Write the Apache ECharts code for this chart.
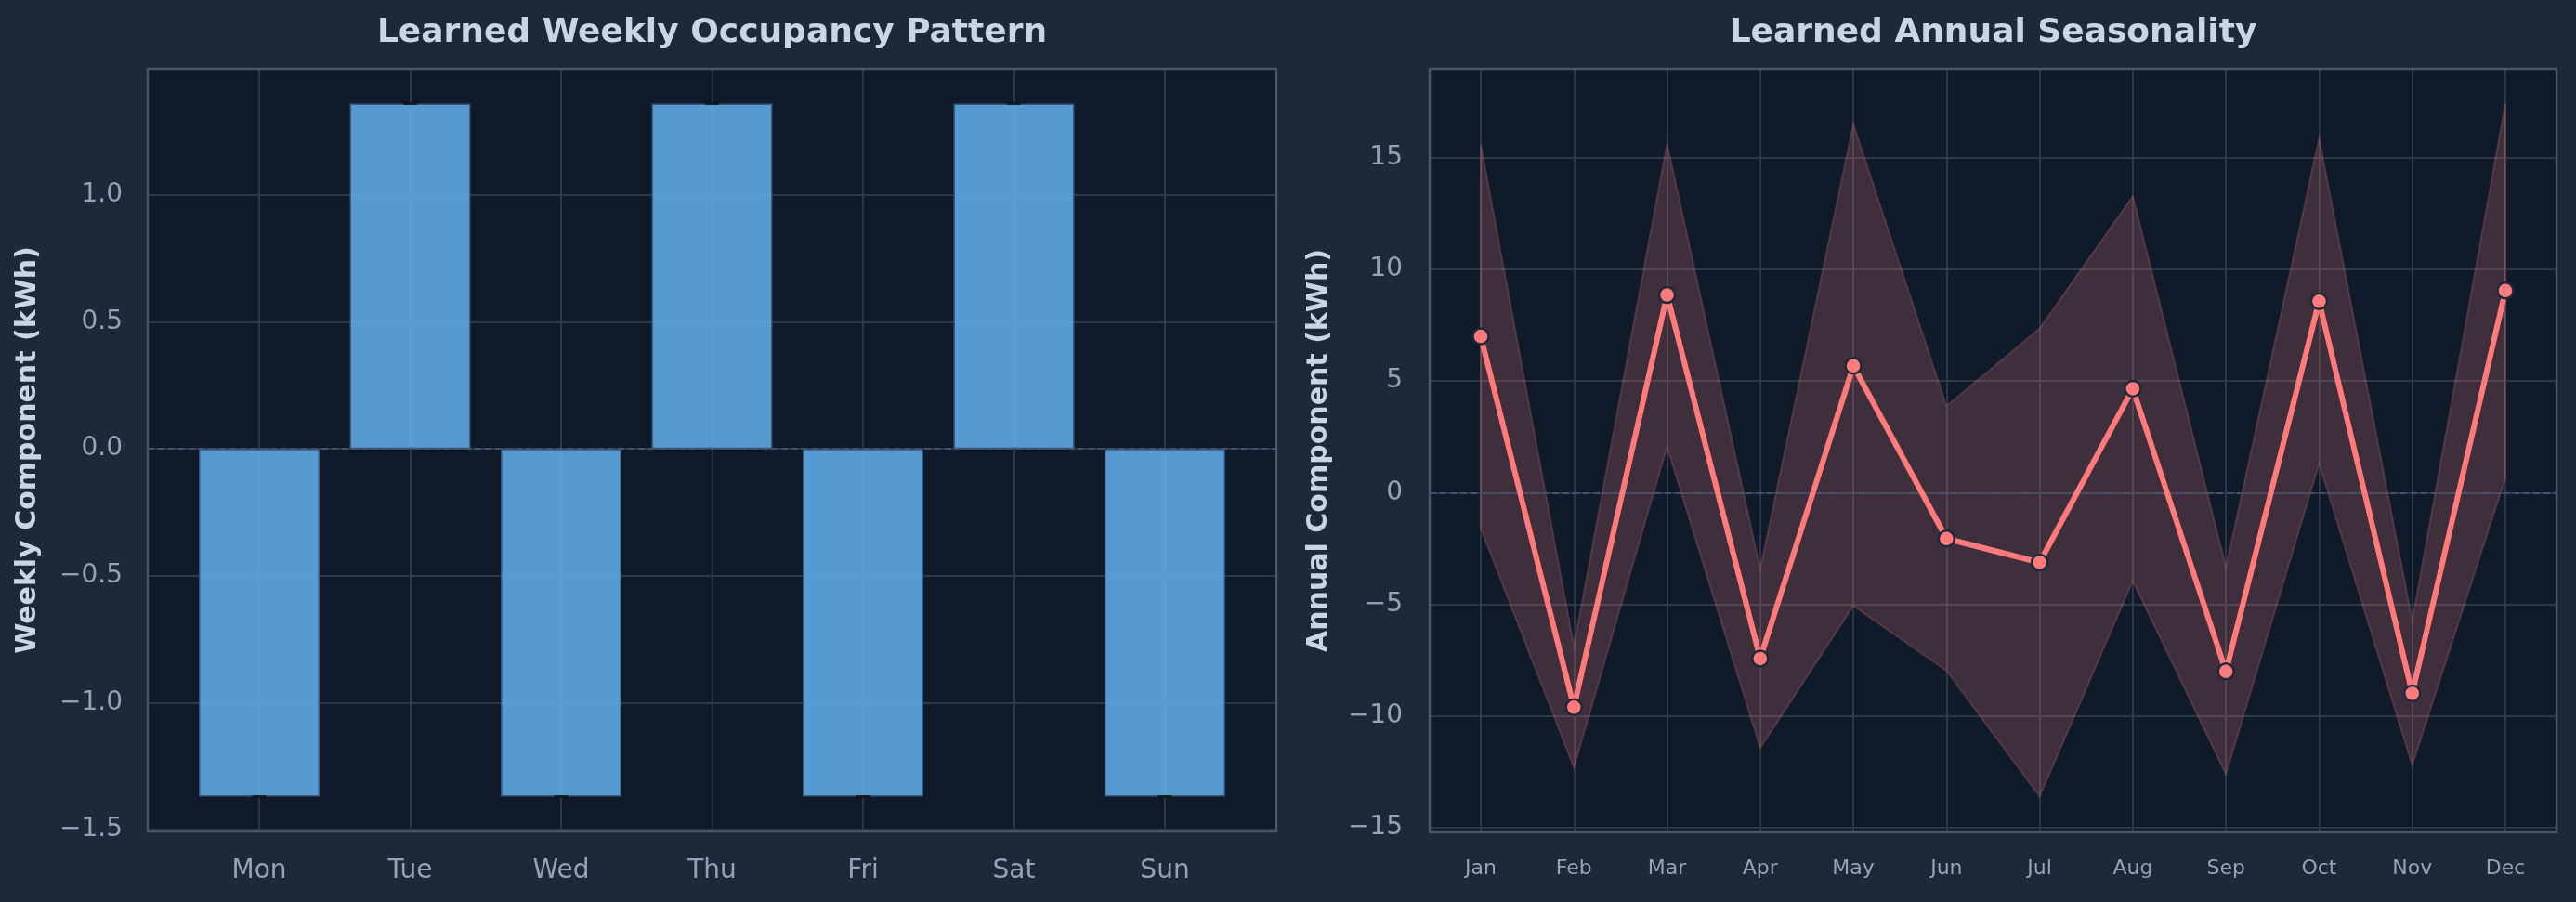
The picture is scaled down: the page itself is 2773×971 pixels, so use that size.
<!DOCTYPE html>
<html>
<head>
<meta charset="utf-8">
<script src="https://cdn.jsdelivr.net/npm/echarts@6/dist/echarts.min.js"></script>
<style>
  html, body { margin: 0; padding: 0; background: #1d2838; }
  #chart { width: 2773px; height: 971px; }
</style>
</head>
<body>
<div id="chart"></div>
<script>
// ---------- data ----------
const days = ['Mon', 'Tue', 'Wed', 'Thu', 'Fri', 'Sat', 'Sun'];
const weeklyValues = [-1.37, 1.36, -1.37, 1.36, -1.37, 1.36, -1.37];

const months = ['Jan', 'Feb', 'Mar', 'Apr', 'May', 'Jun', 'Jul', 'Aug', 'Sep', 'Oct', 'Nov', 'Dec'];
const annualValues = [7.0, -9.6, 8.85, -7.42, 5.68, -2.05, -3.12, 4.66, -8.0, 8.57, -8.98, 9.05];
const annualUpper  = [15.6, -6.86, 15.63, -3.4, 16.5, 3.88, 7.36, 13.28, -3.33, 15.87, -5.72, 17.43];
const annualLower  = [-1.6, -12.31, 2.06, -11.43, -5.06, -7.97, -13.6, -3.95, -12.6, 1.3, -12.2, 0.65];

const weeklyRange = [-1.507, 1.497];
const annualRange = [-15.2, 18.98];

// ---------- style ----------
const FONT = 'DejaVu Sans';
const BG = '#1d2838';
const PLOT_BG = '#0f1b2b';
const GRID_C = '#2d3748';
const FRAME_C = '#4a5568';
const TICK_C = '#94a3b8';
const LABEL_C = '#cbd5e1';
const BAR_C = 'rgba(93,168,226,0.9)';
const LINE_C = '#ff7b7b';

// layout (pixels)
const L = { left: 159, top: 74, width: 1215, height: 821, dataLeft: 279, dataWidth: 975 };
const R = { left: 1539, top: 74, width: 1213, height: 822, dataLeft: 1594, dataWidth: 1103 };

const fmtMinus = s => s.replace('-', '\u2212');

const chart = echarts.init(document.getElementById('chart'), null, { renderer: 'canvas' });

const option = {
  backgroundColor: BG,
  animation: false,
  textStyle: { fontFamily: FONT },
  grid: [
    { left: L.left, top: L.top, width: L.width, height: L.height, show: true, backgroundColor: PLOT_BG, borderWidth: 0 },
    { left: L.dataLeft, top: L.top, width: L.dataWidth, height: L.height },
    { left: R.left, top: R.top, width: R.width, height: R.height, show: true, backgroundColor: PLOT_BG, borderWidth: 0 },
    { left: R.dataLeft, top: R.top, width: R.dataWidth, height: R.height }
  ],
  xAxis: [
    { gridIndex: 0, type: 'value', min: 0, max: 1, show: false },
    {
      gridIndex: 1, type: 'category', data: days, boundaryGap: false,
      axisLine: { show: false }, axisTick: { show: false },
      axisLabel: { color: TICK_C, fontSize: 28, fontFamily: FONT, margin: 29 },
      splitLine: { show: true, lineStyle: { color: GRID_C, width: 2 } }
    },
    { gridIndex: 2, type: 'value', min: 0, max: 1, show: false },
    {
      gridIndex: 3, type: 'category', data: months, boundaryGap: false,
      axisLine: { show: false }, axisTick: { show: false },
      axisLabel: { color: TICK_C, fontSize: 22, fontFamily: FONT, margin: 28 },
      splitLine: { show: true, lineStyle: { color: GRID_C, width: 2 } }
    }
  ],
  yAxis: [
    {
      gridIndex: 0, type: 'value', min: weeklyRange[0], max: weeklyRange[1], splitNumber: 6,
      axisLine: { show: false }, axisTick: { show: false },
      axisLabel: {
        color: TICK_C, fontSize: 28, fontFamily: FONT, margin: 27,
        showMinLabel: false, showMaxLabel: false,
        formatter: v => fmtMinus(v.toFixed(1))
      },
      splitLine: { show: true, lineStyle: { color: GRID_C, width: 2 } }
    },
    { gridIndex: 1, type: 'value', min: weeklyRange[0], max: weeklyRange[1], show: false, splitLine: { show: false } },
    {
      gridIndex: 2, type: 'value', min: annualRange[0], max: annualRange[1], splitNumber: 7,
      axisLine: { show: false }, axisTick: { show: false },
      axisLabel: {
        color: TICK_C, fontSize: 28, fontFamily: FONT, margin: 29,
        showMinLabel: false, showMaxLabel: false,
        formatter: v => fmtMinus(String(Math.round(v)))
      },
      splitLine: { show: true, lineStyle: { color: GRID_C, width: 2 } }
    },
    { gridIndex: 3, type: 'value', min: annualRange[0], max: annualRange[1], show: false, splitLine: { show: false } }
  ],
  series: [
    {
      type: 'bar', xAxisIndex: 1, yAxisIndex: 1, data: weeklyValues,
      barWidth: 130, clip: false,
      itemStyle: { color: BAR_C, borderColor: '#3b5878', borderWidth: 1.5 },
      z: 2
    },
    {
      type: 'scatter', xAxisIndex: 1, yAxisIndex: 1, data: weeklyValues,
      symbol: 'rect', symbolSize: [15, 3], clip: false,
      itemStyle: { color: '#111111' }, z: 3
    },
    {
      type: 'line', xAxisIndex: 0, yAxisIndex: 0, data: [], z: 4,
      markLine: {
        silent: true, symbol: 'none', label: { show: false },
        lineStyle: { type: [7, 4], color: '#44516a', width: 2 },
        data: [{ yAxis: 0 }]
      }
    },
    {
      type: 'custom', xAxisIndex: 3, yAxisIndex: 3, clip: false, z: 2,
      data: months.map((m, i) => [i, annualUpper[i], annualLower[i]]),
      renderItem: function (params, api) {
        if (params.dataIndex !== 0) return null;
        const pts = [];
        for (let i = 0; i < months.length; i++) pts.push(api.coord([i, annualUpper[i]]));
        for (let i = months.length - 1; i >= 0; i--) pts.push(api.coord([i, annualLower[i]]));
        return {
          type: 'polygon',
          shape: { points: pts },
          style: { fill: 'rgba(255,123,123,0.2)', stroke: 'rgba(255,123,123,0.2)', lineWidth: 2 }
        };
      }
    },
    {
      type: 'line', xAxisIndex: 2, yAxisIndex: 2, data: [], z: 3,
      markLine: {
        silent: true, symbol: 'none', label: { show: false },
        lineStyle: { type: [7, 4], color: '#44516a', width: 2 },
        data: [{ yAxis: 0 }]
      }
    },
    {
      type: 'line', xAxisIndex: 3, yAxisIndex: 3, data: annualValues, clip: false, z: 5,
      lineStyle: { color: LINE_C, width: 6 },
      symbol: 'circle', symbolSize: 17,
      itemStyle: { color: LINE_C, borderColor: '#1e293b', borderWidth: 2.5 }
    }
  ],
  graphic: [
    { type: 'text', x: L.left + L.width / 2, y: 36, z: 100,
      style: { text: 'Learned Weekly Occupancy Pattern', font: 'bold 36px "DejaVu Sans"', fill: LABEL_C, align: 'center', verticalAlign: 'middle' } },
    { type: 'text', x: R.left + R.width / 2, y: 36, z: 100,
      style: { text: 'Learned Annual Seasonality', font: 'bold 36px "DejaVu Sans"', fill: LABEL_C, align: 'center', verticalAlign: 'middle' } },
    { type: 'text', x: 30, y: L.top + L.height / 2, rotation: Math.PI / 2, z: 100,
      style: { text: 'Weekly Component (kWh)', font: 'bold 30px "DejaVu Sans"', fill: LABEL_C, align: 'center', verticalAlign: 'middle' } },
    { type: 'text', x: 1420, y: R.top + R.height / 2, rotation: Math.PI / 2, z: 100,
      style: { text: 'Annual Component (kWh)', font: 'bold 30px "DejaVu Sans"', fill: LABEL_C, align: 'center', verticalAlign: 'middle' } },
    { type: 'rect', z: 100, silent: true,
      shape: { x: L.left, y: L.top, width: L.width, height: L.height },
      style: { fill: null, stroke: FRAME_C, lineWidth: 2.5 } },
    { type: 'rect', z: 100, silent: true,
      shape: { x: R.left, y: R.top, width: R.width, height: R.height },
      style: { fill: null, stroke: FRAME_C, lineWidth: 2.5 } }
  ]
};

chart.setOption(option);
</script>
</body>
</html>
